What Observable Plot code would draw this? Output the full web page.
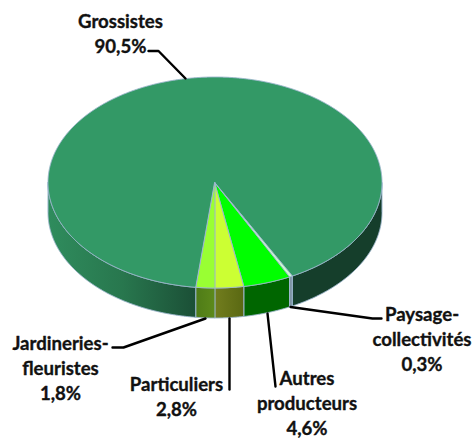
<!DOCTYPE html>
<html lang="fr">
<head>
<meta charset="utf-8">
<script src="https://cdn.jsdelivr.net/npm/d3@7"></script>
<script src="https://cdn.jsdelivr.net/npm/@observablehq/plot@0.6"></script>
<style>html,body{margin:0;padding:0;background:#fff}svg{display:block}</style>
</head>
<body>
<div id="chart"></div>
<script>
// Data, in drawing order clockwise-from-front
const categories = ["Particuliers", "Autres producteurs", "Paysage-collectivités", "Grossistes", "Jardineries-fleuristes"];
const values = [2.8, 4.6, 0.3, 90.5, 1.8];
const valueLabels = ["2,8%", "4,6%", "0,3%", "90,5%", "1,8%"];
const labelLines = ["Particuliers", "Autres\nproducteurs", "Paysage-\ncollectivités", "Grossistes", "Jardineries-\nfleuristes"];
const topColors = ["#ccff33", "#00ff00", "#ccffcc", "#339966", "#99ff33"];

// Layout
const W = 474, H = 439, CX = 215, CY = 182.5, RX = 167, RY = 105.5, DEPTH = 30;
const labelX = [176, 306.5, 421.5, 120, 60];
const labelY = [394.5, 401.5, 337.5, 31.5, 366.5];
const leaders = [
  [[229, 318], [229, 389]],
  [[267, 313], [275, 386]],
  [[290, 306.5], [372, 318], [381, 318]],
  [[185, 78], [158, 50.5], [148, 50.5]],
  [[205, 318], [123, 347], [112, 347]]
];

const arcs = d3.pie().sort(null).value(d => d).startAngle(0).endAngle(2 * Math.PI)(values);
const pt = (a, dz = 0) => [CX + RX * Math.sin(a), CY + RY * Math.cos(a) + dz];
const sample = (a0, a1) => {
  const n = Math.max(2, Math.ceil((a1 - a0) / 0.004));
  return d3.range(n + 1).map(i => a0 + (a1 - a0) * i / n);
};

// Top sectors: fan from the centre to the rim
const sectors = arcs.map((arc, i) => sample(arc.startAngle, arc.endAngle).map(a => {
  const [x, y] = pt(a);
  return {x1: CX, y1: CY, x2: x, y2: y, i};
}));

// Visible rim: only the front half of the ellipse
const sidePieces = [];
arcs.forEach((arc, i) => {
  const ranges = [[Math.PI * 1.5, 2 * Math.PI], [0, Math.PI / 2]];
  ranges.forEach(([lo, hi], part) => {
    const a0 = Math.max(arc.startAngle, lo), a1 = Math.min(arc.endAngle, hi);
    if (a1 > a0) {
      sidePieces.push({i, part, pts: sample(a0, a1).map(a => {
        const [x, y] = pt(a);
        return {x1: x, y1: y, x2: x, y2: y + DEPTH};
      })});
    }
  });
});

const sideFill = p => {
  if (p.i === 3) return p.part === 0 ? "url(#gLeft)" : "#153e2b";
  return ["url(#gPart)", "#006600", "#7d93a3", "", "url(#gJard)"][p.i];
};

const stop = (o, c) => `<stop offset="${o}" stop-color="${c}"/>`;
const grad = (id, a, b, c) => `<linearGradient id="${id}" x1="0" x2="1" y1="0" y2="0">${stop(0, a)}${c ? stop(0.5, b) + stop(1, c) : stop(1, b)}</linearGradient>`;
const defs = () => {
  const s = d3.create("svg:defs");
  s.html(
    grad("gLeft", "#2f8c5d", "#28774e", "#1b4f36") +
    grad("gPart", "#727d1e", "#596812") +
    grad("gJard", "#4f7c17", "#5d8a1b")
  );
  return s.node();
};

const edge = "#9db7cf";
const lines = leaders.flatMap((l, i) => l.map(([x, y]) => ({x, y, i})));
const labels = categories.map((c, i) => ({
  text: labelLines[i] + "\n" + valueLabels[i],
  x: labelX[i], y: labelY[i]
}));

const chart = Plot.plot({
  width: W, height: H,
  margin: 0,
  x: {domain: [0, W], range: [0, W], axis: null},
  y: {domain: [0, H], range: [0, H], axis: null},
  style: {background: "#fff"},
  marks: [
    defs,
    ...sidePieces.map(p => Plot.area(p.pts, {
      x1: "x1", y1: "y1", x2: "x2", y2: "y2",
      fill: sideFill(p), stroke: edge, strokeWidth: 1
    })),
    ...sectors.map((s, i) => Plot.area(s, {
      x1: "x1", y1: "y1", x2: "x2", y2: "y2",
      fill: topColors[i], stroke: edge, strokeWidth: 1
    })),
    Plot.line(lines, {x: "x", y: "y", z: "i", stroke: "#000", strokeWidth: 2.4, curve: "linear"}),
    Plot.text(labels, {
      x: "x", y: "y", text: "text",
      fontFamily: "Lato", fontWeight: 700, fontSize: 18.6, lineHeight: 1.345,
      fill: "#111", stroke: "#111", strokeWidth: 0.35, textAnchor: "middle"
    })
  ]
});
document.getElementById("chart").append(chart);
</script>
</body>
</html>
